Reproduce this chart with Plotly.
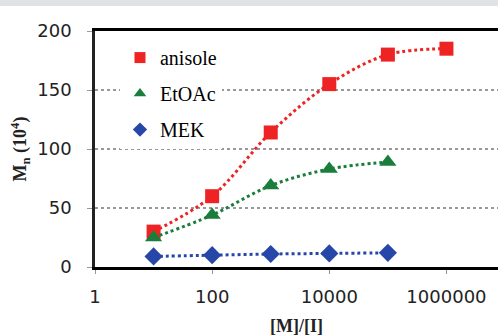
import plotly.graph_objects as go

ratio = [10, 100, 1000, 10000, 100000, 1000000]
anisole = [30, 60, 114, 155, 180, 185]
etoac = [25, 44, 69, 83, 89]
mek = [9, 10, 11, 11.5, 12]

x_ticks = [1, 100, 10000, 1000000]
x_labels = ["1", "100", "10000", "1000000"]
y_ticks = [0, 50, 100, 150, 200]

series = [
    ("anisole", ratio, anisole, "#ee2424", "square", 14),
    ("EtOAc", ratio[:5], etoac, "#1b7d3c", "triangle-up", 15),
    ("MEK", ratio[:5], mek, "#2747a8", "diamond", 14),
]

fig = go.Figure()
for name, xs, ys, col, sym, sz in series:
    fig.add_trace(go.Scatter(x=xs, y=ys, mode="lines", showlegend=False, hoverinfo="skip",
                             line=dict(color=col, dash="dot", width=3, shape="spline")))
    fig.add_trace(go.Scatter(x=xs, y=ys, mode="markers", showlegend=False, name=name,
                             marker=dict(symbol=sym, size=sz, color=col)))
for i, (name, xs, ys, col, sym, sz) in enumerate(series):
    fig.add_trace(go.Scatter(x=[None], y=[None], mode="markers", name=name,
                             legendgroup=str(i),
                             marker=dict(symbol=sym, size=11, color=col)))

fig.update_layout(
    width=498, height=336,
    margin=dict(l=95, r=0, t=31, b=69),
    paper_bgcolor="white", plot_bgcolor="white",
    showlegend=True,
    legend=dict(x=0.062, y=0.97, xanchor="left", yanchor="top",
                bgcolor="white", font=dict(family="Liberation Serif", size=20, color="black"),
                tracegroupgap=7, itemwidth=30),
    shapes=[dict(type="rect", xref="paper", yref="paper",
                 x0=-95 / 403, x1=1.0, y0=1 + 25 / 236, y1=1 + 31 / 236,
                 fillcolor="#e1e2e4", line=dict(width=0), layer="above")],
)

fig.update_xaxes(type="log", range=[0, 6.88], tickvals=x_ticks, ticktext=x_labels,
                 automargin=False,
                 showline=True, linecolor="black", linewidth=2.5, mirror=True,
                 ticks="outside", ticklen=4, tickcolor="#999999",
                 showgrid=False, zeroline=False,
                 tickfont=dict(family="DejaVu Sans", size=18, color="#222222"),
                 ticklabelstandoff=8,
                 title=dict(text="<b>[M]/[I]</b>", font=dict(family="Liberation Serif", size=18, color="#222222"),
                            standoff=14))
fig.update_yaxes(range=[0, 200], tickvals=y_ticks,
                 automargin=False,
                 showline=True, linecolor="#222222", linewidth=2.5, mirror=False,
                 ticks="outside", ticklen=5, tickcolor="#999999",
                 showgrid=True, gridcolor="#999999", griddash="dot", gridwidth=1.5,
                 zeroline=False,
                 tickfont=dict(family="DejaVu Sans", size=18, color="#222222"),
                 ticklabelstandoff=12,
                 title=dict(text="<b>M<sub>n</sub> (10<sup>4</sup>)</b>",
                            font=dict(family="Liberation Serif", size=18, color="#222222"),
                            standoff=6))

fig.write_html("out.html", config={"displayModeBar": False},
               post_script="document.body.style.margin='0px';")
